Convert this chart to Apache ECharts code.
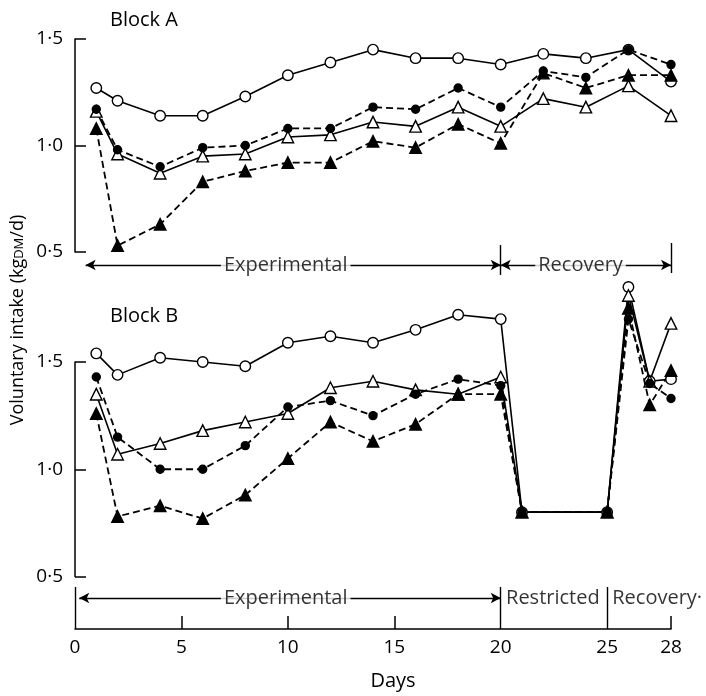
<!DOCTYPE html>
<html>
<head>
<meta charset="utf-8">
<script src="https://cdn.jsdelivr.net/npm/echarts@6/dist/echarts.min.js"></script>
<style>
html,body{margin:0;padding:0;background:#fff;}
#c{width:706px;height:696px;}
</style>
</head>
<body>
<div id="c"></div>
<script>
// ---------- DATA ----------
const daysA = [1, 2, 4, 6, 8, 10, 12, 14, 16, 18, 20, 22, 24, 26, 28];
const aOpenCircle    = [1.27, 1.21, 1.14, 1.14, 1.23, 1.33, 1.39, 1.45, 1.41, 1.41, 1.38, 1.43, 1.41, 1.45, 1.30];
const aClosedCircle  = [1.17, 0.98, 0.90, 0.99, 1.00, 1.08, 1.08, 1.18, 1.17, 1.27, 1.18, 1.35, 1.32, 1.45, 1.38];
const aOpenTriangle  = [1.16, 0.96, 0.87, 0.95, 0.96, 1.04, 1.05, 1.11, 1.09, 1.18, 1.09, 1.22, 1.18, 1.28, 1.14];
const aClosedTriangle= [1.08, 0.53, 0.63, 0.83, 0.88, 0.92, 0.92, 1.02, 0.99, 1.10, 1.01, 1.34, 1.27, 1.33, 1.33];

const daysB = [1, 2, 4, 6, 8, 10, 12, 14, 16, 18, 20, 21, 25, 26, 27, 28];
const bOpenCircle    = [1.54, 1.44, 1.52, 1.50, 1.48, 1.59, 1.62, 1.59, 1.65, 1.72, 1.70, 0.80, 0.80, 1.85, 1.41, 1.42];
const bClosedCircle  = [1.43, 1.15, 1.00, 1.00, 1.11, 1.29, 1.32, 1.25, 1.35, 1.42, 1.39, 0.80, 0.80, 1.70, 1.40, 1.33];
const bOpenTriangle  = [1.35, 1.07, 1.12, 1.18, 1.22, 1.26, 1.38, 1.41, 1.37, 1.35, 1.43, 0.80, 0.80, 1.81, 1.41, 1.68];
const bClosedTriangle= [1.26, 0.78, 0.83, 0.77, 0.88, 1.05, 1.22, 1.13, 1.21, 1.35, 1.35, 0.80, 0.80, 1.75, 1.30, 1.46];

const xTickLabels = [0, 5, 10, 15, 20, 25, 28];
const xTickMarks = [5, 10, 15, 28];

const periodsA = ['Experimental', 'Recovery'];
const periodsB = ['Experimental', 'Restricted', 'Recovery·'];

// ---------- CHART ----------
const FONT = 'Open Sans';
const chart = echarts.init(document.getElementById('c'), null, {renderer: 'canvas'});
const pair = (xs, ys) => xs.map((x, i) => [x, ys[i]]);
const fmt = v => v.toFixed(1).replace('.', '·');

function mk(kind, dashed, xs, ys, g) {
  const s = {
    type: 'line', xAxisIndex: g, yAxisIndex: g, data: pair(xs, ys),
    clip: false, z: 3, animation: false, emphasis: {disabled: true},
    lineStyle: {color: '#000', width: dashed ? 1.8 : 1.6, type: dashed ? [7, 4] : 'solid'},
    itemStyle: {color: '#000', borderColor: '#000', borderWidth: 1.4}
  };
  if (kind === 'oc') { s.symbol = 'circle'; s.symbolSize = 10.5; s.itemStyle.color = '#fff'; }
  if (kind === 'cc') { s.symbol = 'circle'; s.symbolSize = 8; }
  if (kind === 'ot') { s.symbol = 'triangle'; s.symbolSize = 11.5; s.itemStyle.color = '#fff'; }
  if (kind === 'ct') { s.symbol = 'triangle'; s.symbolSize = 11.5; }
  return s;
}

// strip annotations: arrows, separators, period text
function strip(g, arrows, bars, texts) {
  const lines = [];
  arrows.forEach(a => lines.push([{coord: [a[0], a[2]], symbol: 'arrow'}, {coord: [a[1], a[2]], symbol: 'arrow'}]));
  bars.forEach(b => lines.push([{coord: [b[0], b[1]], symbol: 'none'}, {coord: [b[0], b[2]], symbol: 'none'}]));
  return [{
    type: 'line', xAxisIndex: g, yAxisIndex: g, data: [], z: 2, silent: true, animation: false,
    markLine: {
      silent: true, animation: false, symbolSize: [8, 10],
      lineStyle: {color: '#000', width: 1.4, type: 'solid'},
      label: {show: false}, emphasis: {disabled: true},
      data: lines
    }
  }, {
    type: 'scatter', xAxisIndex: g, yAxisIndex: g, z: 6, silent: true, animation: false, clip: false,
    symbolSize: 1, itemStyle: {color: 'rgba(0,0,0,0)'},
    label: {
      show: true, position: 'inside', formatter: '{b}', color: '#000',
      fontFamily: FONT, fontSize: 20, backgroundColor: '#fff', padding: [0, 3, 0, 3]
    },
    data: texts.map(t => ({name: t[0], value: [t[1], t[2]]}))
  }];
}

const yAxisMain = g => ({
  gridIndex: g, type: 'value', min: 0.5, max: 1.5, interval: 0.5,
  axisLine: {show: true, lineStyle: {color: '#000', width: 1.5}},
  axisTick: {show: true, inside: true, length: 11, lineStyle: {color: '#000', width: 1.5}},
  axisLabel: {formatter: fmt, color: '#000', fontFamily: FONT, fontSize: 19, margin: 12},
  splitLine: {show: false}
});
const hiddenY = g => ({gridIndex: g, type: 'value', min: 0, max: 1, show: false});
const hiddenX = g => ({gridIndex: g, type: 'value', min: 0, max: 28, show: false});

const option = {
  backgroundColor: '#fff',
  animation: false,
  title: [
    {text: 'Block A', left: 105, top: 5, textStyle: {fontFamily: FONT, fontSize: 20, fontWeight: 'normal', color: '#000'}},
    {text: 'Block B', left: 105, top: 301, textStyle: {fontFamily: FONT, fontSize: 20, fontWeight: 'normal', color: '#000'}}
  ],
  grid: [
    {left: 75, right: 35, top: 39, height: 213},
    {left: 75, right: 35, top: 232, height: 50},
    {left: 75, right: 35, top: 362, height: 214.5},
    {left: 75, right: 35, top: 576.5, height: 52.5}
  ],
  xAxis: [
    hiddenX(0), hiddenX(1), hiddenX(2),
    {gridIndex: 3, type: 'value', min: 0, max: 28, position: 'bottom',
     axisLine: {show: true, lineStyle: {color: '#000', width: 1.5}},
     axisTick: {show: true, inside: true, length: 13, customValues: xTickMarks, lineStyle: {color: '#000', width: 1.5}},
     axisLabel: {customValues: xTickLabels, color: '#000', fontFamily: FONT, fontSize: 19, margin: 9},
     splitLine: {show: false},
     name: 'Days', nameLocation: 'middle', nameGap: 42,
     nameTextStyle: {fontFamily: FONT, fontSize: 20, color: '#000', padding: [0, 0, 0, 40]}
    }
  ],
  yAxis: [yAxisMain(0), hiddenY(1), yAxisMain(2), hiddenY(3)],
  graphic: [{
    type: 'text', x: 18, y: 320, rotation: Math.PI / 2,
    style: {
      text: 'Voluntary intake (kg{s|DM}/d)',
      fontFamily: FONT, fontSize: 18, fill: '#000',
      align: 'center', verticalAlign: 'middle',
      rich: {s: {fontFamily: FONT, fontSize: 13, fill: '#000', verticalAlign: 'bottom', padding: [0, 0, 1.5, 0]}}
    }
  }],
  series: [
    mk('oc', false, daysA, aOpenCircle, 0),
    mk('ot', false, daysA, aOpenTriangle, 0),
    mk('cc', true, daysA, aClosedCircle, 0),
    mk('ct', true, daysA, aClosedTriangle, 0),
    mk('oc', false, daysB, bOpenCircle, 2),
    mk('ot', false, daysB, bOpenTriangle, 2),
    mk('cc', true, daysB, bClosedCircle, 2),
    mk('ct', true, daysB, bClosedTriangle, 2)
  ].concat(
    strip(1,
      [[0.5, 20, 0.34], [20, 28, 0.34]],
      [[20, 0.74, 0.14], [28, 0.78, 0.18]],
      [[periodsA[0], 9.9, 0.34], [periodsA[1], 23.75, 0.34]]),
    strip(3,
      [[0.2, 20, 0.59]],
      [[0, 0, 0.8], [20, 0, 0.8], [25, 0, 0.8]],
      [[periodsB[0], 9.9, 0.59], [periodsB[1], 22.45, 0.59], [periodsB[2], 27.35, 0.59]])
  )
};
chart.setOption(option);
</script>
</body>
</html>
